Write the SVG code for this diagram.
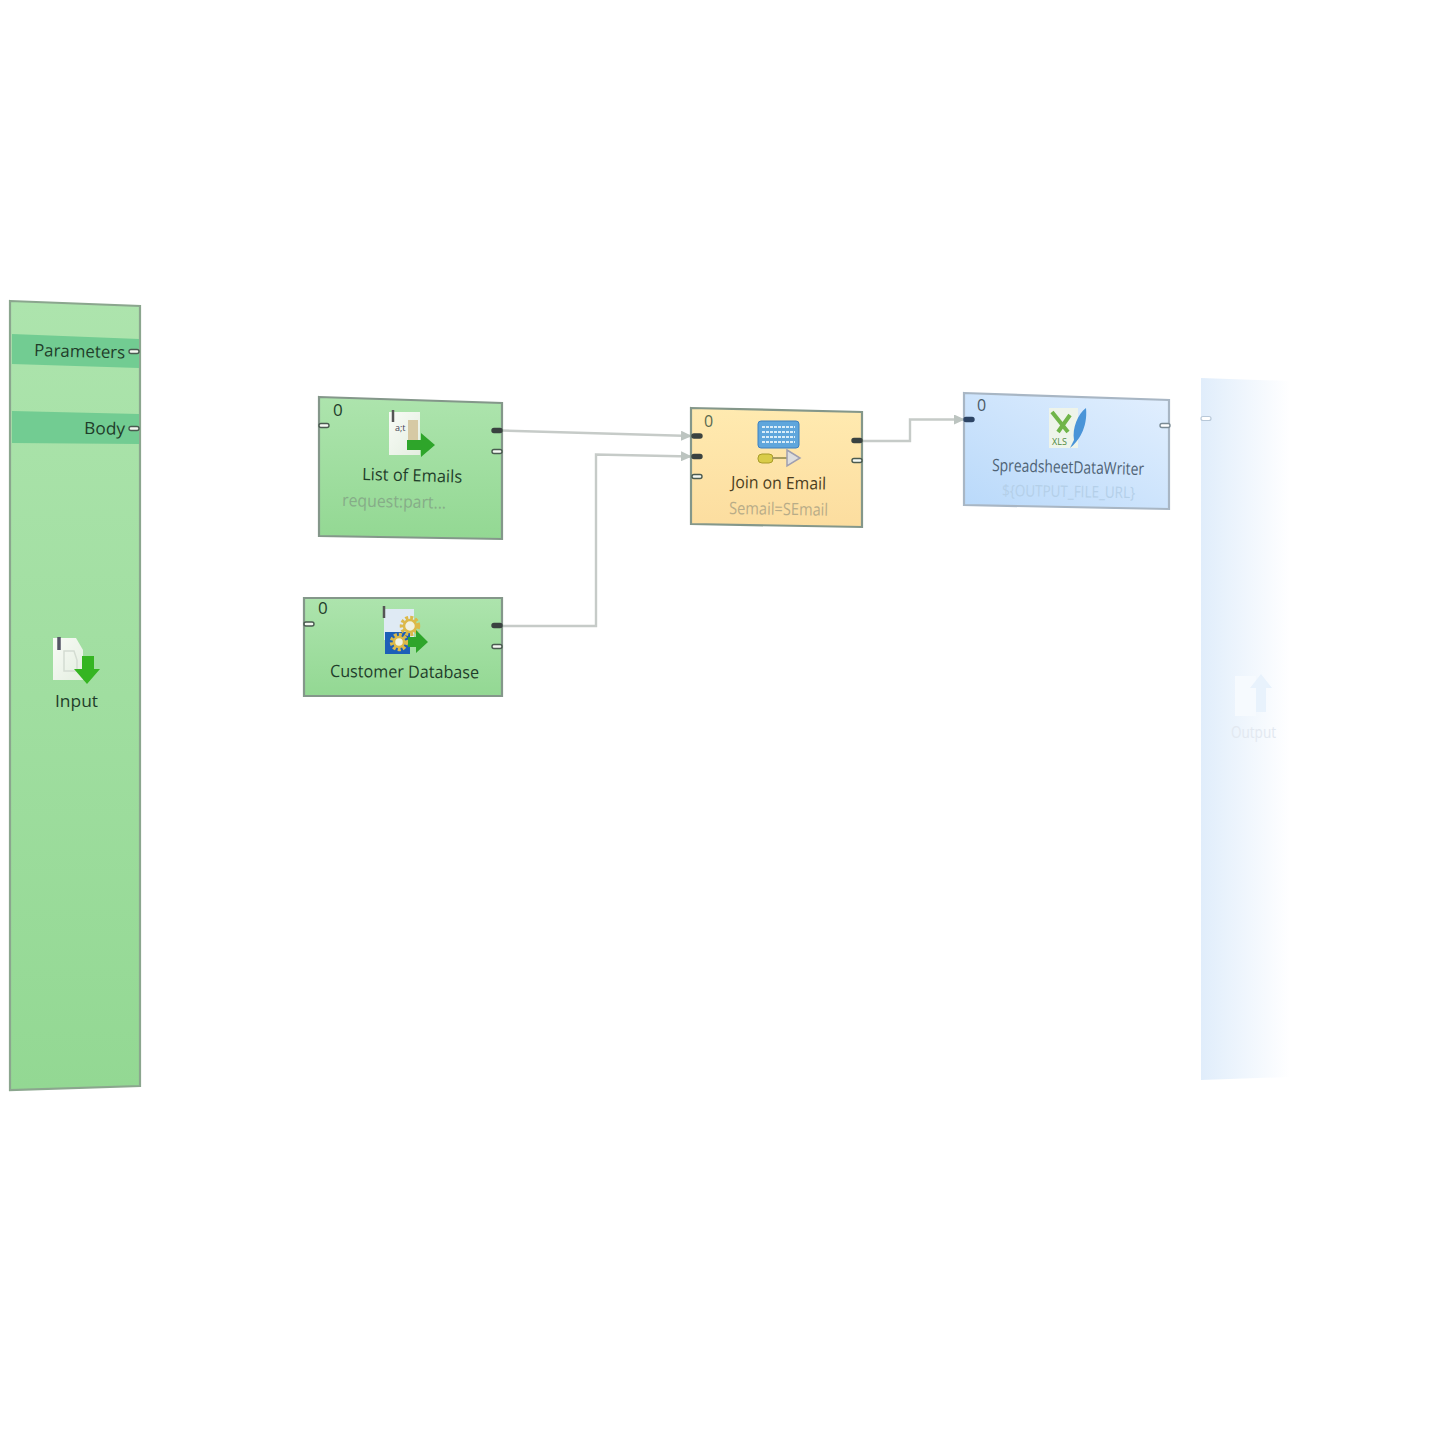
<svg xmlns="http://www.w3.org/2000/svg" width="1440" height="1440" viewBox="0 0 1440 1440">
<style>
text{font-family:"Open Sans","Noto Sans","Liberation Sans",sans-serif;font-size:17px;fill:#1f3d2a}
.c{text-anchor:middle}
.sub{fill:#86ac88}
.box{stroke:#84978a;stroke-width:2.2}
.conn{fill:none;stroke:#c6cbc8;stroke-width:2.4}
.port{fill:#f4f8f2;stroke:#4a5a50;stroke-width:1.4}
.on{fill:#3a4240;stroke:#3a4240;stroke-width:1.4}
.ic{filter:url(#soft)}
</style>
<defs>
<filter id="soft" x="-10%" y="-10%" width="120%" height="120%"><feGaussianBlur stdDeviation="0.6"/></filter>
<linearGradient id="g" x1="0" y1="0" x2="0" y2="1"><stop offset="0" stop-color="#ade4ad"/><stop offset="1" stop-color="#93d893"/></linearGradient>
<linearGradient id="y" x1="0" y1="0" x2="0" y2="1"><stop offset="0" stop-color="#ffeab0"/><stop offset="1" stop-color="#fcdd9f"/></linearGradient>
<linearGradient id="b" x1="0" y1="1" x2="1" y2="0"><stop offset="0" stop-color="#b9d9fa"/><stop offset="1" stop-color="#e2effe"/></linearGradient>
<linearGradient id="o" x1="0" y1="0" x2="1" y2="0"><stop offset="0" stop-color="#e0edfb"/><stop offset="1" stop-color="#fff"/></linearGradient>
<linearGradient id="doc" x1="0" y1="0" x2="1" y2="1"><stop offset="0" stop-color="#f8fbf6"/><stop offset="1" stop-color="#e4eee0"/></linearGradient>
<marker id="a" markerWidth="12" markerHeight="10" refX="10" refY="5" orient="auto" markerUnits="userSpaceOnUse"><path d="M0 0L11 5L0 10Z" fill="#bcc4c0"/></marker>
</defs>
<rect width="1440" height="1440" fill="#fff"/>
<g id="connectors">
<path class="conn" marker-end="url(#a)" d="M502 430.500L691 436"/>
<path class="conn" marker-end="url(#a)" d="M502 626H596V454.500L691 456.500"/>
<path class="conn" marker-end="url(#a)" d="M862 441H910V419.500L964 419.500"/>
</g>
<g id="input">
<path d="M10 301L140 306V1086L10 1090Z" fill="url(#g)" stroke="#8ba68e" stroke-width="2.200"/>
<path d="M12 334L139 339V368L12 364Z" fill="#72cc92"/>
<path d="M12 411L139 414V444L12 443Z" fill="#72cc92"/>
<text x="34" y="356" textLength="91" lengthAdjust="spacingAndGlyphs" transform="rotate(1.500 34 356)">Parameters</text>
<text x="84" y="434" textLength="41" lengthAdjust="spacingAndGlyphs" transform="rotate(1 84 434)">Body</text>
<rect class="port" x="129" y="349.500" width="10" height="4" rx="2"/>
<rect class="port" x="129" y="426.500" width="10" height="4" rx="2"/>
<g class="ic">
<path d="M53 638H76L83 650V680H53Z" fill="url(#doc)"/>
<path d="M64 651H74L77 660V671H64Z" fill="none" stroke="#d4dcd2" stroke-width="1.500"/>
<path d="M59 637V650" stroke="#556" stroke-width="3.500" fill="none"/>
<path d="M82 656H94V669H100L87 684L74 669H82Z" fill="#36b524"/>
</g>
<text x="55" y="707" textLength="43" lengthAdjust="spacingAndGlyphs">Input</text>
</g>
<g id="list-of-emails">
<path class="box" d="M319 397L502 403V539L319 536Z" fill="url(#g)"/>
<text x="333" y="416" font-size="16">0</text>
<rect class="port" x="319" y="423.500" width="10" height="4" rx="2"/>
<rect class="on" x="492" y="428.500" width="10" height="4" rx="2"/>
<rect class="port" x="492" y="449.500" width="10" height="4" rx="2"/>
<g class="ic">
<path d="M389 412H420V455H389Z" fill="url(#doc)"/>
<path d="M408 420H418V440H408Z" fill="#d6c9a4"/>
<path d="M393 410V422" stroke="#555" stroke-width="2.500" fill="none"/>
<path d="M407 440H421V433L435 445L421 457V450H407Z" fill="#2ea52c"/>
</g>
<text x="395" y="431" style="font-size:9px;fill:#445">a;t</text>
<text x="362" y="480" textLength="100" lengthAdjust="spacingAndGlyphs" transform="rotate(1.500 362 480)">List of Emails</text>
<text class="sub" x="342" y="506" textLength="104" lengthAdjust="spacingAndGlyphs" transform="rotate(1.500 342 506)">request:part...</text>
</g>
<g id="customer-database">
<path class="box" d="M304 598H502V696H304Z" fill="url(#g)"/>
<text x="318" y="614" font-size="16">0</text>
<rect class="port" x="304" y="622" width="10" height="4" rx="2"/>
<rect class="on" x="492" y="623.500" width="10" height="4" rx="2"/>
<rect class="port" x="492" y="644.500" width="10" height="4" rx="2"/>
<g class="ic">
<path d="M384 609H414V640H384Z" fill="#dfeaf4"/>
<path d="M385 632H410V654H385Z" fill="#1f5fb8"/>
<path d="M384 606V618" stroke="#555" stroke-width="2.500" fill="none"/>
<circle cx="410" cy="626" r="8.500" fill="none" stroke="#dcb948" stroke-width="3.500" stroke-dasharray="3 2"/>
<circle cx="410" cy="626" r="6" fill="#f1f1e0" stroke="#dcb948" stroke-width="2.500"/>
<circle cx="399" cy="642" r="7.500" fill="none" stroke="#dcb948" stroke-width="3.500" stroke-dasharray="3 2"/>
<circle cx="399" cy="642" r="5" fill="#f1f1e0" stroke="#dcb948" stroke-width="2.500"/>
<path d="M408 637H416V630L428 642L416 653V647H408Z" fill="#2ea52c"/>
</g>
<text x="330" y="677" textLength="149" lengthAdjust="spacingAndGlyphs" transform="rotate(.5 330 677)">Customer Database</text>
</g>
<g id="join-on-email">
<path class="box" d="M691 408L862 412V527L691 524Z" fill="url(#y)"/>
<text x="704" y="427" style="font-size:16px;fill:#5a6a50">0</text>
<rect class="on" x="692" y="434" width="10" height="4" rx="2"/>
<rect class="on" x="692" y="454.500" width="10" height="4" rx="2"/>
<rect class="port" x="692" y="474.500" width="10" height="4" rx="2"/>
<rect class="on" x="852" y="438.500" width="10" height="4" rx="2"/>
<rect class="port" x="852" y="458.500" width="10" height="4" rx="2"/>
<g class="ic">
<rect x="758" y="421" width="41" height="27" rx="3" fill="#5fa6dc" stroke="#3d80c0"/>
<path d="M762 427H795M762 432H795M762 437H795M762 442H795" stroke="#d8ecf8" stroke-width="2" stroke-dasharray="3 1"/>
<rect x="758" y="454" width="15" height="9" rx="4" fill="#d9cc4a" stroke="#a89c28"/>
<path d="M772 458H790" stroke="#a89c60" stroke-width="2"/>
<path d="M787 450L800 458L787 466Z" fill="#ddd" stroke="#9f9fb0" stroke-width="1.500"/>
</g>
<text x="731" y="488" textLength="95" lengthAdjust="spacingAndGlyphs" style="fill:#4a3c20" transform="rotate(1 731 488)">Join on Email</text>
<text x="729" y="514" textLength="99" lengthAdjust="spacingAndGlyphs" style="fill:#b8ac88" transform="rotate(1 729 514)">Semail=SEmail</text>
</g>
<g id="spreadsheet-writer">
<path d="M964 393L1169 400V509L964 505Z" fill="url(#b)" stroke="#a8b6c4" stroke-width="2.200"/>
<text x="977" y="411" style="font-size:16px;fill:#4a5a66">0</text>
<rect class="on" x="964" y="417.500" width="10" height="4" rx="2" style="fill:#2d4464;stroke:#2d4464"/>
<rect x="1160" y="423.500" width="10" height="4" rx="2" fill="#fff" stroke="#7a8a94" stroke-width="1.400"/>
<g class="ic">
<path d="M1049 408H1078V448H1049Z" fill="#eef4ea"/>
<path d="M1052 412L1068 432M1070 415L1058 432" stroke="#6fb548" stroke-width="4" fill="none"/>
<path d="M1086 408C1078 414 1072 428 1074 440L1070 448C1078 442 1088 428 1086 408Z" fill="#4a94d8"/>
</g>
<text x="1052" y="445" style="font-size:9px;fill:#4f8a40">XLS</text>
<text x="992" y="471" textLength="152" lengthAdjust="spacingAndGlyphs" style="fill:#4e6274" transform="rotate(1.500 992 471)">SpreadsheetDataWriter</text>
<text x="1002" y="496" textLength="133" lengthAdjust="spacingAndGlyphs" style="fill:#b4cfe8;font-size:16px" transform="rotate(1 1002 496)">${OUTPUT_FILE_URL}</text>
</g>
<g id="output">
<path d="M1201 378L1290 381V1077L1201 1080Z" fill="url(#o)"/>
<rect x="1201" y="416.500" width="10" height="4" rx="2" fill="#fff" stroke="#b8c8d8" stroke-width="1.200"/>
<g class="ic">
<path d="M1235 676H1256V716H1235Z" fill="#f6fafe"/>
<path d="M1261 674L1272 688H1266V712H1256V688H1250Z" fill="#e8f2fc"/>
</g>
<text x="1231" y="738" textLength="45" lengthAdjust="spacingAndGlyphs" style="fill:#e2e8f0;font-size:16px">Output</text>
</g>
</svg>
